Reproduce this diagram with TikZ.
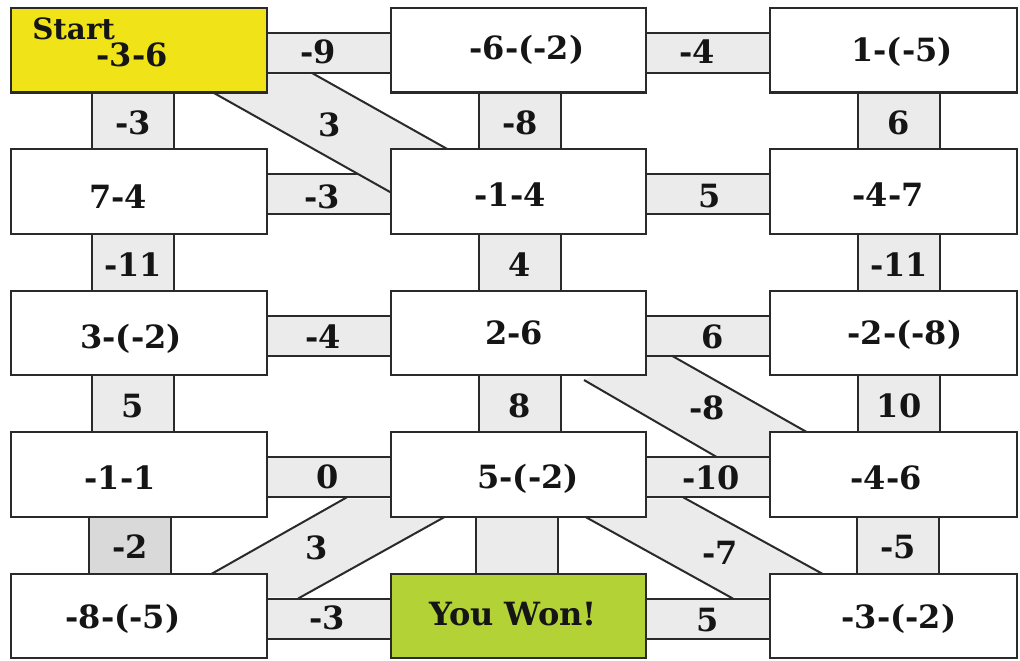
\documentclass[tikz,border=0pt]{standalone}
\usepackage{fontspec}
\setmainfont{DejaVu Serif}
\usetikzlibrary{calc}
\pgfdeclarelayer{bg}
\pgfdeclarelayer{mid}
\pgfsetlayers{bg,mid,main}
\definecolor{stripgray}{HTML}{EBEBEB}
\definecolor{darkstrip}{HTML}{D9D9D9}
\definecolor{startyellow}{HTML}{F0E418}
\definecolor{wongreen}{HTML}{B3D235}
\definecolor{ink}{HTML}{151515}
\definecolor{edgecol}{HTML}{2A2A2A}
\tikzset{
  box/.style={draw=edgecol, line width=1.6pt, fill=white, inner sep=0pt, outer sep=0pt,
              anchor=north west, minimum height=63.4pt},
  wa/.style={minimum width=192pt},
  wb/.style={minimum width=191.25pt},
  wc/.style={minimum width=185.25pt},
  txt/.style={font=\bfseries\fontsize{24}{28}\selectfont, text=ink, inner sep=0pt,
              text height=17.5pt, text depth=0pt},
  lbl/.style={txt},
  conn/.style={draw=edgecol, line width=1.5pt},
}
% horizontal connector: left node, right node, label name, text, dx, dy
\newcommand{\hconn}[6]{%
  \begin{pgfonlayer}{bg}
    \fill[stripgray] ($(#1.north east)+(0,25)$) rectangle ($(#2.north west)+(0,65)$);
    \draw[conn] ($(#1.north east)+(0,25)$) -- ($(#2.north west)+(0,25)$);
    \draw[conn] ($(#1.north east)+(0,65)$) -- ($(#2.north west)+(0,65)$);
  \end{pgfonlayer}
  \node[lbl] (#3) at ($(#1.north east)!0.5!(#2.north west)+(#5,#6)$) {#4};
}
% vertical connector: upper node, lower node, x offset, label name, text, fill colour
\newcommand{\vconn}[6]{%
  \begin{pgfonlayer}{bg}
    \fill[#6] ($(#1.south west)+(#3,0)$) rectangle ($(#2.north west)+(#3+82,0)$);
    \draw[conn] ($(#1.south west)+(#3,0)$) -- ($(#2.north west)+(#3,0)$);
    \draw[conn] ($(#1.south west)+(#3+82,0)$) -- ($(#2.north west)+(#3+82,0)$);
  \end{pgfonlayer}
  \node[lbl] (#4) at ($(#1.south west)!0.5!(#2.north west)+(#3+41,2)$) {#5};
}
\begin{document}
\begin{tikzpicture}[x=0.75pt, y=-0.75pt]
\useasboundingbox (0,0) rectangle (1020,660);

% boxes
\node[box,wa,fill=startyellow] (n11) at (11,8) {};
\node[box,wb] (n12) at (391,8) {};
\node[box,wc] (n13) at (770,8) {};
\node[box,wa] (n21) at (11,149.4) {};
\node[box,wb] (n22) at (391,149.4) {};
\node[box,wc] (n23) at (770,149.4) {};
\node[box,wa] (n31) at (11,290.8) {};
\node[box,wb] (n32) at (391,290.8) {};
\node[box,wc] (n33) at (770,290.8) {};
\node[box,wa] (n41) at (11,432.2) {};
\node[box,wb] (n42) at (391,432.2) {};
\node[box,wc] (n43) at (770,432.2) {};
\node[box,wa] (n51) at (11,573.6) {};
\node[box,wb,fill=wongreen] (n52) at (391,573.6) {};
\node[box,wc] (n53) at (770,573.6) {};

% box texts
\node[txt, font=\bfseries\fontsize{22}{26}\selectfont, text height=16pt, anchor=west] (tstart) at (32,29) {Start};
\node[txt] (t11) at (132,55) {-3-6};
\node[txt] (t12) at (527,48) {-6-(-2)};
\node[txt] (t13) at (902,50) {1-(-5)};
\node[txt] (t21) at (118,197) {7-4};
\node[txt] (t22) at (510,195) {-1-4};
\node[txt] (t23) at (888,195) {-4-7};
\node[txt] (t31) at (131,337) {3-(-2)};
\node[txt] (t32) at (514,333) {2-6};
\node[txt] (t33) at (905,333) {-2-(-8)};
\node[txt] (t41) at (120,478) {-1-1};
\node[txt] (t42) at (528,477) {5-(-2)};
\node[txt] (t43) at (886,478) {-4-6};
\node[txt] (t51) at (123,617) {-8-(-5)};
\node[txt] (t52) at (513,614) {You Won!};
\node[txt] (t53) at (899,617) {-3-(-2)};

% horizontal connectors
\hconn{n11}{n12}{h11}{-9}{-11}{44}
\hconn{n12}{n13}{h12}{-4}{-11}{44}
\hconn{n21}{n22}{h21}{-3}{-7}{47}
\hconn{n22}{n23}{h22}{5}{2}{46}
\hconn{n31}{n32}{h31}{-4}{-6}{46}
\hconn{n32}{n33}{h32}{6}{5}{46}
\hconn{n41}{n42}{h41}{0}{-1}{45}
\hconn{n42}{n43}{h42}{-10}{3}{46}
\hconn{n51}{n52}{h51}{-3}{-2}{44}
\hconn{n52}{n53}{h52}{5}{0}{46}

% vertical connectors
\vconn{n11}{n21}{81}{v11}{-3}{stripgray}
\vconn{n12}{n22}{88}{v12}{-8}{stripgray}
\vconn{n13}{n23}{88}{v13}{6}{stripgray}
\vconn{n21}{n31}{81}{v21}{-11}{stripgray}
\vconn{n22}{n32}{88}{v22}{4}{stripgray}
\vconn{n23}{n33}{88}{v23}{-11}{stripgray}
\vconn{n31}{n41}{81}{v31}{5}{stripgray}
\vconn{n32}{n42}{88}{v32}{8}{stripgray}
\vconn{n33}{n43}{88}{v33}{10}{stripgray}
\vconn{n41}{n51}{78}{v41}{-2}{darkstrip}
\vconn{n42}{n52}{85}{v42}{}{stripgray}
\vconn{n43}{n53}{87}{v43}{-5}{stripgray}

% diagonal connector 1: Start -> -1-4
\coordinate (d1a) at ($(n11.south west)+(193,-5.1)$);
\coordinate (d1b) at ($(n22.north west)+(9,48.2)$);
\coordinate (d1c) at ($(n11.north east)+(45,65)$);
\coordinate (d1d) at ($(n22.north west)+(66,5.1)$);
% diagonal connector 2: 2-6 -> -4-6
\coordinate (d2a) at ($(n32.south west)+(193,4.7)$);
\coordinate (d2b) at ($(n43.north west)+(-53,25)$);
\coordinate (d2c) at ($(n32.north east)+(26,65)$);
\coordinate (d2d) at ($(n43.north west)+(46,5.1)$);
% diagonal connector 3: 5-(-2) -> -8-(-5)
\coordinate (d3a) at ($(n41.north east)+(80,65)$);
\coordinate (d3b) at ($(n51.north west)+(192,5.1)$);
\coordinate (d3c) at ($(n42.south west)+(63,-5)$);
\coordinate (d3d) at ($(n51.north east)+(31,25)$);
% diagonal connector 4: 5-(-2) -> -3-(-2)
\coordinate (d4a) at ($(n42.north east)+(37,65)$);
\coordinate (d4b) at ($(n53.north west)+(61,4.9)$);
\coordinate (d4c) at ($(n42.south west)+(185,-5)$);
\coordinate (d4d) at ($(n52.north east)+(87,25)$);

\begin{pgfonlayer}{mid}
  \fill[stripgray] (d1a) -- ($(n11.north east)+(-7,66.3)$) -- ($(n11.north east)+(47.3,66.3)$)
        -- (d1d) -- (d1b) -- cycle;
  \draw[conn] (d1a) -- (d1b);
  \draw[conn] (d1c) -- (d1d);
  \fill[stripgray] (d2a) -- ($(n32.north east)+(-16,66.3)$) -- ($(n32.north east)+(28.3,66.3)$)
        -- (d2d) -- ($(n43.north west)+(10,23.7)$) -- ($(n43.north west)+(-55.2,23.7)$) -- cycle;
  \draw[conn] (d2a) -- (d2b);
  \draw[conn] (d2c) -- (d2d);
  \fill[stripgray] ($(n41.north east)+(77.7,66.3)$) -- ($(n42.north west)+(9,66.3)$) -- (d3c)
        -- ($(n51.north east)+(33.3,23.7)$) -- ($(n51.north east)+(-17,23.7)$) -- (d3b) -- cycle;
  \draw[conn] (d3a) -- (d3b);
  \draw[conn] (d3c) -- (d3d);
  \fill[stripgray] (d4c) -- ($(n42.north east)+(-16,66.3)$) -- ($(n42.north east)+(39.4,66.3)$)
        -- (d4b) -- ($(n53.north west)+(20,23.7)$) -- ($(n52.north east)+(84.6,23.7)$) -- cycle;
  \draw[conn] (d4a) -- (d4b);
  \draw[conn] (d4c) -- (d4d);
\end{pgfonlayer}

\node[lbl] (g1) at (330,125) {3};
\node[lbl] (g2) at (707,408) {-8};
\node[lbl] (g3) at (317,548) {3};
\node[lbl] (g4) at (720,553) {-7};
\end{tikzpicture}
\end{document}
